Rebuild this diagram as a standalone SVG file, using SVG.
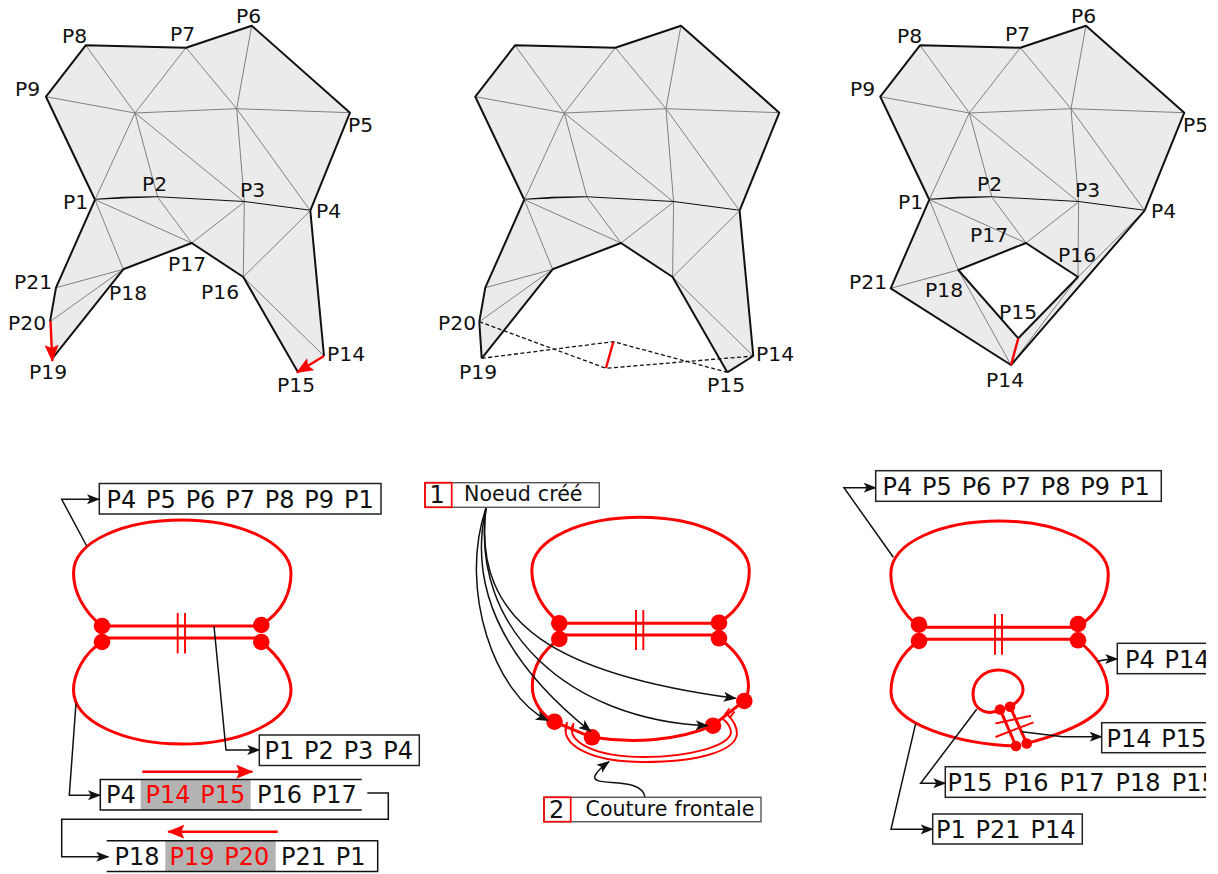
<svg xmlns="http://www.w3.org/2000/svg" xmlns:xlink="http://www.w3.org/1999/xlink" width="1218" height="874" viewBox="0 0 1218 874">
<style>
text{font-family:"DejaVu Sans",Verdana,sans-serif;fill:#111}
.l{font-size:20.3px}
.b{font-size:24px;word-spacing:2.2px}
.lg{font-size:20.6px;word-spacing:.5px}
.r{fill:#f00}
.mf{fill:#ebebeb;stroke:none}
.thin{fill:none;stroke:#808080;stroke-width:1}
.thick{fill:none;stroke:#111;stroke-width:2;stroke-linejoin:round}
.rl{fill:none;stroke:#f00;stroke-width:3}
.rt{fill:none;stroke:#f00;stroke-width:1.9}
.rn{fill:#f00}
.box{fill:#fff;stroke:#222;stroke-width:1.5}
.gbox{fill:#fff;stroke:#555;stroke-width:1.4}
.rbox{fill:none;stroke:#f00;stroke-width:1.7}
.con{fill:none;stroke:#111;stroke-width:1.5}
.ln{fill:none;stroke:#111;stroke-width:1.5}
.da{fill:none;stroke:#111;stroke-width:1.3;stroke-dasharray:4 2.5}
.ra{fill:none;stroke:#f00;stroke-width:2.4}
</style>
<defs>
<marker id="ah" markerUnits="userSpaceOnUse" markerWidth="14" markerHeight="12" refX="12" refY="5" orient="auto"><path d="M0,0L13,5L0,10L3,5Z" fill="#111"/></marker>
<marker id="rh" markerUnits="userSpaceOnUse" markerWidth="18" markerHeight="16" refX="16" refY="7" orient="auto"><path d="M0,0L17,7L0,14L3,7Z" fill="#f00"/></marker>
<clipPath id="page"><rect x="0" y="0" width="1206" height="874"/></clipPath>
<g id="upper">
<path class="mf" d="M95,199.7L46,96.7L85.7,45.3L186,47.7L251.7,25.7L350,112.7L310.3,210.7L244.3,202L157.7,197.3Z"/>
<path class="thin" d="M85.7,45.3L135,113M186,47.7L135,113M46,96.7L135,113M95,199.7L135,113M135,113L157.7,197.3M135,113L244.3,202M135,113L236.7,108.7M236.7,108.7L186,47.7M236.7,108.7L251.7,25.7M236.7,108.7L350,112.7M236.7,108.7L244.3,202M236.7,108.7L310.3,210.7"/>
<path class="thick" d="M310.3,210.7L350,112.7L251.7,25.7L186,47.7L85.7,45.3L46,96.7L95,199.7"/>
<path class="thick" d="M95,199.7Q125,197 157.7,197.3L244.3,202L310.3,210.7"/>
</g>
<g id="lower">
<path class="mf" d="M95,199.7L157.7,197.3L244.3,202L310.3,210.7L324,356L298,372.3L243.3,277L191.7,243L123.3,269.3L52.4,358.3L50,321.7L56,287.7Z"/>
<path class="thin" d="M95,199.7L191.7,243M95,199.7L123.3,269.3M157.7,197.3L191.7,243M244.3,202L191.7,243M244.3,202L243.3,277M310.3,210.7L243.3,277M243.3,277L324,356M123.3,269.3L56,287.7M123.3,269.3L50,321.7"/>
<path class="thick" d="M310.3,210.7L324,356M298,372.3L243.3,277L191.7,243L123.3,269.3L52.4,358.3M50,321.7L56,287.7L95,199.7"/>
</g>
<g id="lobes">
<path class="rl" d="M102,626C84,612 73.5,592 73.5,573C73.5,541 125,520 182,520C240,520 291,543 291,573C291,592 283,612 261,625"/>
</g>
</defs>
<g clip-path="url(#page)">
<g id="mesh-1">
<use xlink:href="#upper" href="#upper"/>
<use xlink:href="#lower" href="#lower"/>
<path class="ra" d="M50.5,321L52.3,361" marker-end="url(#rh)"/>
<path class="ra" d="M324,356L297,372.5" marker-end="url(#rh)"/>
<text class="l" x="62" y="43">P8</text><text class="l" x="170" y="41">P7</text><text class="l" x="236" y="23">P6</text><text class="l" x="15" y="96">P9</text><text class="l" x="348" y="132">P5</text><text class="l" x="63" y="209">P1</text><text class="l" x="142" y="191">P2</text><text class="l" x="240" y="197">P3</text><text class="l" x="316" y="218">P4</text><text class="l" x="168" y="271">P17</text><text class="l" x="201" y="299">P16</text><text class="l" x="109" y="300">P18</text><text class="l" x="14" y="289">P21</text><text class="l" x="8" y="330">P20</text><text class="l" x="29" y="379">P19</text><text class="l" x="327" y="361">P14</text><text class="l" x="277" y="392">P15</text>
</g>
<g id="mesh-2">
<use xlink:href="#upper" href="#upper" x="429.3"/>
<use xlink:href="#lower" href="#lower" x="429.3"/>
<path class="thick" d="M479.3,321.7L481.7,358.3M727.3,372.3L753.3,356"/>
<path class="da" d="M479.3,321.7L606,368.3L753.3,356M481.7,358.3L613.3,341.7L727.3,372.3"/>
<path class="ra" d="M613.3,342L606,368"/>
<text class="l" x="438" y="330">P20</text><text class="l" x="459" y="379">P19</text><text class="l" x="756" y="361">P14</text><text class="l" x="707" y="392">P15</text>
</g>
<g id="mesh-3">
<use xlink:href="#upper" href="#upper" x="834.3"/>
<path class="mf" fill-rule="evenodd" d="M929.3,199.7L992,197.3L1078.6,202L1144.6,210.7L1011,365L890.7,288.3ZM958.3,270L1026,243L1078,277L1018.3,338.3Z"/>
<path class="thin" d="M929.3,199.7L1026,243M929.3,199.7L958.3,270M992,197.3L1026,243M1078.6,202L1026,243M1078.6,202L1078,277M1144.6,210.7L1078,277M1078,277L1011,365M958.3,270L890.7,288.3M958.3,270L1011,365"/>
<path class="thick" d="M929.3,199.7L890.7,288.3L1011,365L1144.6,210.7M958.3,270L1026,243L1078,277L1018.3,338.3Z"/>
<path class="ra" d="M1018.3,338.3L1011,365"/>
<text class="l" x="897" y="43">P8</text><text class="l" x="1005" y="41">P7</text><text class="l" x="1071" y="23">P6</text><text class="l" x="850" y="96">P9</text><text class="l" x="1183" y="132">P5</text><text class="l" x="898" y="209">P1</text><text class="l" x="977" y="191">P2</text><text class="l" x="1075" y="197">P3</text><text class="l" x="1151" y="218">P4</text><text class="l" x="970" y="242">P17</text><text class="l" x="1058" y="262">P16</text><text class="l" x="925" y="297">P18</text><text class="l" x="849" y="289">P21</text><text class="l" x="999" y="319">P15</text><text class="l" x="986" y="387">P14</text>
</g>

<g id="loop-1">
<use xlink:href="#lobes" href="#lobes"/>
<path class="rl" d="M102,642C84,653 73.5,674 73.5,690C73.5,722 125,744 182,744C240,744 291,722 291,690C291,674 278,655 261,642"/>
<path class="rl" d="M102,626H261M102,638H261"/>
<path class="rt" d="M177.7,613V653.5M185,613V653.5"/>
<circle class="rn" cx="102" cy="626" r="8.3"/><circle class="rn" cx="261.3" cy="625" r="8.3"/><circle class="rn" cx="102" cy="642" r="8.3"/><circle class="rn" cx="261.3" cy="642" r="8.3"/>
</g>
<g id="loop-2">
<use xlink:href="#lobes" href="#lobes" x="458.3" y="-2.7"/>
<path class="rl" d="M559.3,639C541,652 532.3,668 532.3,686.7C532.3,702 543,716 554,721.7L591.7,737.3C630,743 675,742 712.7,725.7L744,701C749,695 748.5,685 748.3,683C747,665 735,650 719,638.3"/>
<path class="rl" d="M559.3,623.3H719M559.3,635H719"/>
<path class="rt" d="M636,610V650M643.3,610V650"/>
<path class="rt" d="M567,722L565.5,731M573.5,723L572,732M724.5,715L729.5,708.5M729.5,718L734.5,711.5"/>
<path class="rt" d="M566.5,724C560,745 590,762 644,762C695,762 735,752 737,734C737,726 733,720 727,714"/>
<path class="rt" d="M572.5,725C567,742 595,757 644,757C690,757 728,746 731,733C731,727 728,723 723,719"/>
<circle class="rn" cx="559.3" cy="623.3" r="8.3"/><circle class="rn" cx="719" cy="622.7" r="8.3"/><circle class="rn" cx="559.3" cy="639" r="8.3"/><circle class="rn" cx="719" cy="638.3" r="8.3"/>
<circle class="rn" cx="554.5" cy="721.7" r="8.3"/><circle class="rn" cx="592" cy="737.3" r="8.3"/><circle class="rn" cx="713" cy="725.7" r="8.3"/><circle class="rn" cx="744.3" cy="701" r="8.3"/>
</g>
<g id="loop-3">
<use xlink:href="#lobes" href="#lobes" x="817.3" y="1"/>
<path class="rl" d="M919,641C901,653 891,672 891,691.7C891,725 960,744 1016,746M1026.7,743.3C1070,732 1107.7,715 1107.7,691.7C1107.7,672 1096,655 1078,640.3"/>
<path class="rl" d="M919,627.3H1078M919,639.3H1078"/>
<path class="rt" d="M995,614V654.7M1002,614V654.7"/>
<path class="rl" d="M1000,709.3C990,716 973,712 973,694C973,680 985,670 998,670C1012,670 1023,679 1023,690C1023,696 1017,703 1010,706.7"/>
<path class="rl" d="M1000,709.3L1016,746M1010,706.7L1026.7,743.3"/>
<path class="rt" d="M995.5,723.5L1031,715.7M995.5,737L1033.5,722.3"/>
<circle class="rn" cx="919" cy="624.7" r="8.3"/><circle class="rn" cx="1078" cy="624" r="8.3"/><circle class="rn" cx="919" cy="641" r="8.3"/><circle class="rn" cx="1078" cy="640.3" r="8.3"/>
<circle class="rn" cx="1000" cy="709.5" r="5.3"/><circle class="rn" cx="1010" cy="706.7" r="5.3"/><circle class="rn" cx="1016" cy="746" r="5.3"/><circle class="rn" cx="1026.7" cy="743.5" r="5.3"/>
</g>

<g id="connectors">
<path class="con" d="M86.7,546L61.7,499.3H99" marker-end="url(#ah)"/>
<path class="con" d="M214,626L226,750H259.3" marker-end="url(#ah)"/>
<path class="con" d="M76,703.3L69.3,795.3H100" marker-end="url(#ah)"/>
<path class="con" d="M367.3,793H388.3V819.3H61.7V856.7H108.3" marker-end="url(#ah)"/>
<path class="con" d="M486,508C458,590 495,695 548,720.5" marker-end="url(#ah)"/>
<path class="con" d="M486,508C465,600 520,675 590.7,731.5" marker-end="url(#ah)"/>
<path class="con" d="M486,508C470,630 570,720 707.7,725.7" marker-end="url(#ah)"/>
<path class="con" d="M486,508C472,625 560,675 735.7,698.3" marker-end="url(#ah)"/>
<path class="con" d="M645,797.3C642,775 590,788 595,776C597,771 603,766 609,761.7" marker-end="url(#ah)"/>
<path class="con" d="M893.3,557.3L844,487.7H875.7" marker-end="url(#ah)"/>
<path class="con" d="M1097.7,661.7C1103,659 1110,659 1117.3,659" marker-end="url(#ah)"/>
<path class="con" d="M1021.7,731.7L1063,736.7H1101.7" marker-end="url(#ah)"/>
<path class="con" d="M976.7,709.3L920.7,783.3H945.3" marker-end="url(#ah)"/>
<path class="con" d="M915.7,723.3L891,829.3H932.7" marker-end="url(#ah)"/>
<path class="ra" d="M142.3,771.7H252.3" marker-end="url(#rh)"/>
<path class="ra" d="M277.7,831.7H168.3" marker-end="url(#rh)"/>
</g>

<g id="list-1"><rect class="box" x="99.3" y="483.5" width="281.7" height="30.5"/><text class="b" x="106.5" y="507.5">P4 P5 P6 P7 P8 P9 P1</text></g>
<g id="list-2"><rect class="box" x="259.3" y="735" width="160" height="30.5"/><text class="b" x="264.5" y="759">P1 P2 P3 P4</text></g>
<g id="list-3">
<rect x="140.7" y="780" width="110" height="30" fill="#b3b3b3"/>
<path class="ln" d="M361.7,779.5H100.3V810H361.7"/>
<text class="b" x="106" y="803">P4</text><text class="b r" x="145.5" y="803">P14 P15</text><text class="b" x="257" y="803">P16 P17</text>
</g>
<g id="list-4">
<rect x="165.3" y="841" width="110.4" height="30" fill="#b3b3b3"/>
<path class="ln" d="M106.7,840.7H377.7V871.5H106.7"/>
<text class="b" x="114.5" y="864.5">P18</text><text class="b r" x="169.5" y="864.5">P19 P20</text><text class="b" x="281" y="864.5">P21 P1</text>
</g>
<g id="legend-1"><rect class="gbox" x="425" y="482.7" width="174.3" height="24.6"/><rect class="rbox" x="425" y="482.7" width="26.7" height="24.6"/><text class="b" x="429.5" y="503">1</text><text class="lg" x="464" y="501">Noeud créé</text></g>
<g id="legend-2"><rect class="gbox" x="544" y="797.3" width="217" height="24.4"/><rect class="rbox" x="544" y="797.3" width="26.7" height="24.4"/><text class="b" x="549" y="818">2</text><text class="lg" x="585.5" y="816">Couture frontale</text></g>
<g id="list-5"><rect class="box" x="875.7" y="470.7" width="285.6" height="30.6"/><text class="b" x="882.5" y="495">P4 P5 P6 P7 P8 P9 P1</text></g>
<g id="list-6"><rect class="box" x="1117.3" y="643.3" width="120" height="30.4"/><text class="b" x="1125" y="667.5">P4 P14</text></g>
<g id="list-7"><rect class="box" x="1101.7" y="722.7" width="130" height="30"/><text class="b" x="1106.5" y="746.5">P14 P15</text></g>
<g id="list-8"><rect class="box" x="945.3" y="766.7" width="300" height="30.6"/><text class="b" x="947.5" y="790.5" style="word-spacing:3.4px">P15 P16 P17 P18 P15</text></g>
<g id="list-9"><rect class="box" x="932.7" y="814" width="149.6" height="30"/><text class="b" x="936" y="838">P1 P21 P14</text></g>
</g>
</svg>
